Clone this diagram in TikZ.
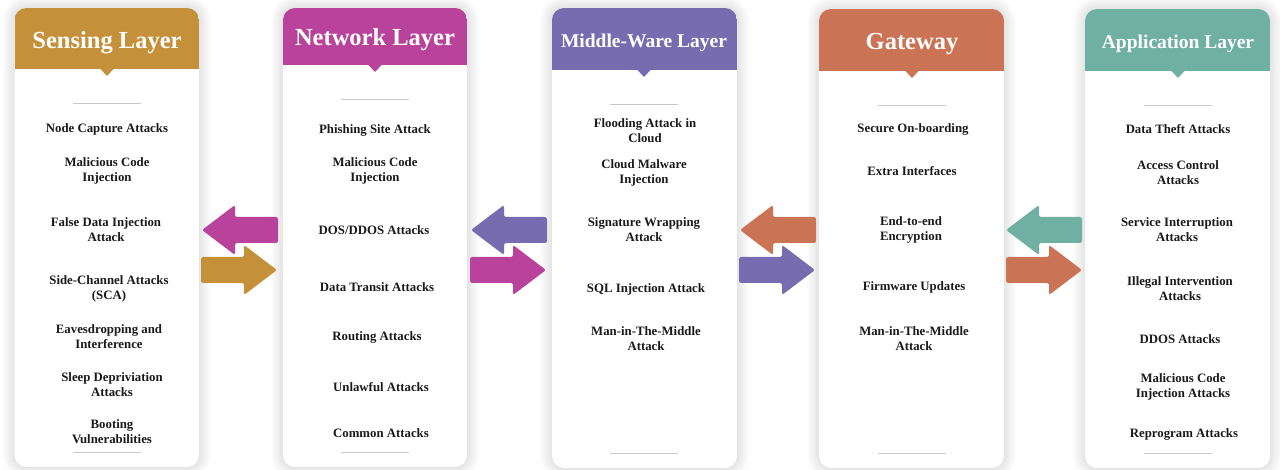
\documentclass[tikz,border=0pt]{standalone}
\usepackage{fontspec}
\setmainfont{Liberation Serif}
\usetikzlibrary{shadows.blur}

\definecolor{cGold}{HTML}{C4903A}
\definecolor{cMagenta}{HTML}{B9429A}
\definecolor{cPurple}{HTML}{776CB0}
\definecolor{cOrange}{HTML}{CB7455}
\definecolor{cTeal}{HTML}{6FB0A3}
\definecolor{cRule}{HTML}{C9C9C9}
\definecolor{cInk}{HTML}{1A1A1A}

\tikzset{
  cardbody/.style={fill=white, rounded corners=12,
    blur shadow={shadow xshift=0pt, shadow yshift=0pt, shadow blur radius=13pt,
      shadow blur steps=16, shadow opacity=22}},
  sepline/.style={draw=cRule, line width=0.9pt},
  titletext/.style={text=white, font=\bfseries, inner sep=0pt, yshift=-2.5pt},
  item/.style={text=cInk, align=center, inner sep=0pt, yshift=-2pt,
    font=\bfseries\fontsize{12.8}{15}\selectfont},
  fatarrow/.pic={\fill[#1, rounded corners=2.2] (0,0) -- (33,-25) -- (33,-13) -- (76,-13)
    -- (76,13) -- (33,13) -- (33,25) -- cycle;},
}

\begin{document}
\begin{tikzpicture}[x=1pt, y=-1pt]
\useasboundingbox (0,0) rectangle (1280,470);

% cards: name / left / right / top / header bottom / bottom / centre / title y / colour / title / title size
\foreach \n/\l/\r/\t/\h/\b/\m/\ty/\c/\ttl/\fs in {
  sense/14.5/199/8/69/467/107/40/cGold/Sensing Layer/24.5,
  net/283/467/8/65/467/375/37/cMagenta/Network Layer/24.5,
  mid/552/737/8/70/468/644/40/cPurple/Middle-Ware Layer/19.5,
  gate/819/1004/9/71/468/912/42/cOrange/Gateway/24.5,
  app/1085/1270/9/71/468/1178/41/cTeal/Application Layer/19.5}{
  \path[cardbody] (\l,\t) rectangle (\r,\b);
  \begin{scope}
    \clip[rounded corners=12] (\l,\t) rectangle (\r,\b);
    \fill[\c] (\l,\t) rectangle (\r,\h);
  \end{scope}
  \fill[\c] (\m-7,\h-0.5) -- (\m+7,\h-0.5) -- (\m,\h+7) -- cycle;
  \node[titletext, font=\bfseries\fontsize{\fs}{\fs}\selectfont] (\n-title) at (\m,\ty) {\ttl};
  \coordinate (\n-top) at (\m,\h+34);
  \coordinate (\n-bot) at (\m,\b-15);
  \draw[sepline] ([xshift=-34pt]\n-top) -- ([xshift=34pt]\n-top);
  \draw[sepline] ([xshift=-34pt]\n-bot) -- ([xshift=34pt]\n-bot);
}

% Sensing layer
\node[item] (s1) at (107,127)   {Node Capture Attacks};
\node[item] (s2) at (107,169)   {Malicious Code\\Injection};
\node[item] (s3) at (106,227.5) {False Data Injection\\Attack};
\node[item] (s4) at (109,287)   {Side-Channel Attacks\\(SCA)};
\node[item] (s5) at (109,334.5) {Eavesdropping and\\Interference};
\node[item] (s6) at (112,382.5) {Sleep Depriviation\\Attacks};
\node[item] (s7) at (112,429.5) {Booting\\Vulnerabilities};

% Network layer
\node[item] (n1) at (375,128)   {Phishing Site Attack};
\node[item] (n2) at (375,169)   {Malicious Code\\Injection};
\node[item] (n3) at (374,228)   {DOS/DDOS Attacks};
\node[item] (n4) at (377,285)   {Data Transit Attacks};
\node[item] (n5) at (377,335)   {Routing Attacks};
\node[item] (n6) at (381,385)   {Unlawful Attacks};
\node[item] (n7) at (381,431)   {Common Attacks};

% Middle-ware layer
\node[item] (m1) at (645,129)   {Flooding Attack in\\Cloud};
\node[item] (m2) at (644,170.5) {Cloud Malware\\Injection};
\node[item] (m3) at (644,227.5) {Signature Wrapping\\Attack};
\node[item] (m4) at (646,287)   {SQL Injection Attack};
\node[item] (m5) at (646,336.5) {Man-in-The-Middle\\Attack};

% Gateway
\node[item] (g1) at (913,127)   {Secure On-boarding};
\node[item] (g2) at (912,169)   {Extra Interfaces};
\node[item] (g3) at (911,227.5) {End-to-end\\Encryption};
\node[item] (g4) at (914,285)   {Firmware Updates};
\node[item] (g5) at (914,336.5) {Man-in-The-Middle\\Attack};

% Application layer
\node[item] (a1) at (1178,127)   {Data Theft Attacks};
\node[item] (a2) at (1178,171)   {Access Control\\Attacks};
\node[item] (a3) at (1177,227.5) {Service Interruption\\Attacks};
\node[item] (a4) at (1180,286.5) {Illegal Intervention\\Attacks};
\node[item] (a5) at (1180,337)   {DDOS Attacks};
\node[item] (a6) at (1183,384.5) {Malicious Code\\Injection Attacks};
\node[item] (a7) at (1184,432)   {Reprogram Attacks};

% exchange arrows between neighbouring cards
\pic at (202,230)  {fatarrow=cMagenta};
\pic[xscale=-1] at (277,270) {fatarrow=cGold};
\pic at (471,230)  {fatarrow=cPurple};
\pic[xscale=-1] at (546,270) {fatarrow=cMagenta};
\pic at (740,230)  {fatarrow=cOrange};
\pic[xscale=-1] at (815,270) {fatarrow=cPurple};
\pic at (1006,230) {fatarrow=cTeal};
\pic[xscale=-1] at (1082,270) {fatarrow=cOrange};
\end{tikzpicture}
\end{document}
